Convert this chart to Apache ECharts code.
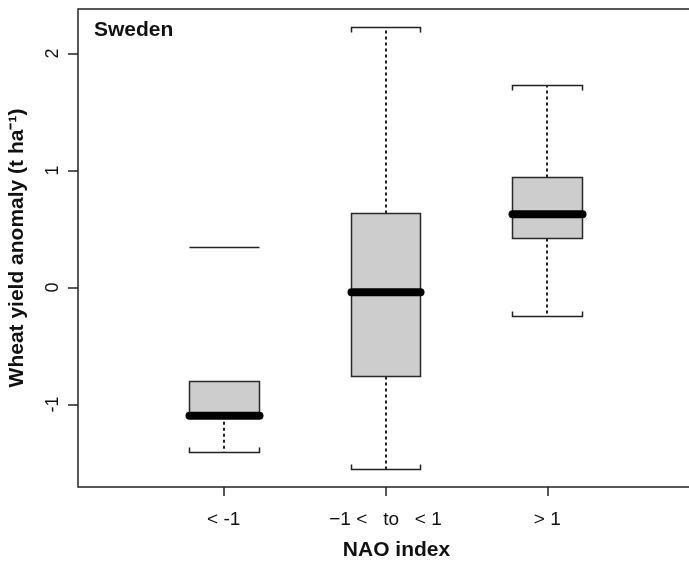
<!DOCTYPE html>
<html>
<head>
<meta charset="utf-8">
<script src="https://cdn.jsdelivr.net/npm/echarts@6/dist/echarts.min.js"></script>
<style>
html,body{margin:0;padding:0;background:#fff;}
#chart{width:689px;height:561px;}
</style>
</head>
<body>
<div id="chart"></div>
<script>
// ---- data ----
const categories = ['< -1', '\u22121 <   to   < 1', '> 1'];
const positions = [1, 2, 3];
const lowerWhisker = [-1.403, -1.551, -0.244];
const q1 = [-1.08, -0.754, 0.421];
const median = [-1.096, -0.041, 0.626];
const q3 = [-0.797, 0.634, 0.947];
const upperWhisker = [0.346, 2.229, 1.731];
const upperStemShown = [false, true, true];
const yTicks = [-1, 0, 1, 2];

const FONT = '"Liberation Sans", Arial, Helvetica, sans-serif';
const HALF = 0.216;

const boxData = positions.map((p, i) => [p, lowerWhisker[i], q1[i], median[i], q3[i], upperWhisker[i], upperStemShown[i] ? 1 : 0]);

function renderItem(params, api) {
  const x = api.value(0);
  const lo = api.value(1), b1 = api.value(2), md = api.value(3), b3 = api.value(4), hi = api.value(5);
  const stem = api.value(6) === 1;
  const L = Math.round(api.coord([x - HALF, 0])[0]) + 0.5;
  const R = Math.round(api.coord([x + HALF, 0])[0]) + 0.5;
  const C = Math.round(api.coord([x, 0])[0]);
  const yLo = Math.round(api.coord([x, lo])[1]) + 0.5;
  const yQ1 = Math.round(api.coord([x, b1])[1]) + 0.5;
  const yMd = api.coord([x, md])[1];
  const yQ3 = Math.round(api.coord([x, b3])[1]) + 0.5;
  const yHi = Math.round(api.coord([x, hi])[1]) + 0.5;
  const dash = {stroke: '#222', lineWidth: 2, lineDash: [3, 3], fill: null};
  const solid = {stroke: '#222', lineWidth: 1.5, fill: null};
  const children = [];
  // lower whisker
  children.push({type: 'polyline', shape: {points: [[C, Math.max(yQ1, yMd)], [C, yLo]]}, style: dash});
  children.push({type: 'polyline', shape: {points: [[L, yLo - 5], [L, yLo], [R, yLo], [R, yLo - 5]]}, style: solid});
  // upper whisker
  if (stem) {
    children.push({type: 'polyline', shape: {points: [[C, yQ3], [C, yHi]]}, style: dash});
    children.push({type: 'polyline', shape: {points: [[L, yHi + 5], [L, yHi], [R, yHi], [R, yHi + 5]]}, style: solid});
  } else {
    children.push({type: 'polyline', shape: {points: [[L, yHi], [R, yHi]]}, style: solid});
  }
  // box
  children.push({type: 'rect', shape: {x: L, y: yQ3, width: R - L, height: yQ1 - yQ3},
    style: {fill: '#cdcdcd', stroke: '#2a2a2a', lineWidth: 1.5}});
  // median
  children.push({type: 'polyline', shape: {points: [[L, yMd], [R, yMd]]},
    style: {stroke: '#000', lineWidth: 8, lineCap: 'round', fill: null}});
  return {type: 'group', children: children};
}

const chart = echarts.init(document.getElementById('chart'), null, {renderer: 'canvas'});
chart.setOption({
  animation: false,
  backgroundColor: '#fff',
  textStyle: {fontFamily: FONT},
  title: {
    text: 'Sweden', left: 94, top: 20, padding: 0,
    textStyle: {fontFamily: FONT, fontSize: 21, fontWeight: 'bold', color: '#111'}
  },
  grid: {left: 78, right: -4, top: 9, bottom: 74, show: true, borderColor: '#222', borderWidth: 1.5,
    backgroundColor: 'transparent', containLabel: false, outerBoundsMode: 'none'},
  xAxis: {
    type: 'value', min: 0.1, max: 3.9,
    splitLine: {show: false},
    axisLine: {show: false, onZero: false},
    axisTick: {show: true, length: 9, customValues: positions, lineStyle: {color: '#222', width: 1.5}},
    axisLabel: {
      customValues: positions, margin: 23, fontSize: 19, color: '#111', fontFamily: FONT,
      formatter: function (v) { const i = positions.indexOf(v); return i >= 0 ? categories[i] : ''; }
    },
    name: 'NAO index', nameLocation: 'middle', nameGap: 53,
    nameTextStyle: {fontFamily: FONT, fontSize: 21, fontWeight: 'bold', color: '#111', padding: [0, 0, 0, 22]}
  },
  yAxis: {
    type: 'value', min: -1.705, max: 2.38,
    splitLine: {show: false},
    axisLine: {show: false, onZero: false},
    axisTick: {show: true, length: 10, customValues: yTicks, lineStyle: {color: '#222', width: 1.5}},
    axisLabel: {
      customValues: yTicks, rotate: 90, margin: 16, fontSize: 18, color: '#111', fontFamily: FONT,
      formatter: function (v) { return v < 0 ? '-' + Math.abs(v) : String(v); }
    },
    name: 'Wheat yield anomaly (t ha\u207B\u00B9)', nameLocation: 'middle', nameGap: 50, nameRotate: 90,
    nameTextStyle: {fontFamily: FONT, fontSize: 21, fontWeight: 'bold', color: '#111'}
  },
  series: [{
    type: 'custom',
    silent: true,
    renderItem: renderItem,
    data: boxData,
    encode: {x: 0, y: [1, 5]},
    clip: false
  }]
});
</script>
</body>
</html>
